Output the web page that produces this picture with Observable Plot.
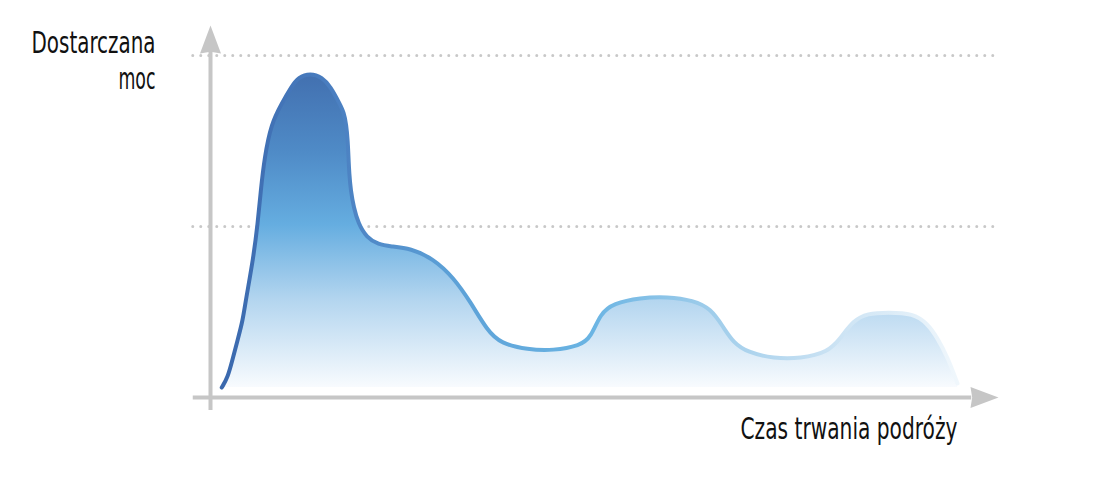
<!DOCTYPE html>
<html>
<head>
<meta charset="utf-8">
<script src="https://cdn.jsdelivr.net/npm/d3@7"></script>
<script src="https://cdn.jsdelivr.net/npm/@observablehq/plot@0.6"></script>
<style>
  html, body { margin: 0; padding: 0; background: #ffffff; }
  svg text { font-family: "Liberation Sans Narrow", "DejaVu Sans Condensed", "Roboto Condensed", "DejaVu Sans", sans-serif; }
</style>
</head>
<body>
<div id="chart"></div>
<script>
// Travel time (arbitrary units 0–100)
const time = [1.5, 2.3, 2.9, 3.6, 4.3, 4.7, 5.7, 6.3, 6.7, 7.2, 8.1, 9.5, 10.8, 11.7, 13.3, 14.9, 16.0, 17.2, 17.8, 18.1, 18.3, 18.4, 18.5, 18.7, 19.1, 19.7, 20.8, 22.4, 24.0, 26.7, 29.7, 32.4, 34.7, 36.9, 38.7, 42.3, 45.7, 49.3, 50.7, 52.0, 53.7, 57.3, 60.9, 64.4, 66.7, 68.4, 69.7, 71.6, 75.1, 78.7, 82.3, 84.0, 85.7, 87.6, 90.3, 93.7, 95.6, 96.9, 98.3, 99.6];
// Delivered power (arbitrary units 0–100)
const power = [2.9, 5.9, 10.8, 16.7, 22.5, 28.4, 40.6, 50.9, 60.5, 70.2, 80.1, 86.0, 90.9, 93.6, 94.9, 93.6, 90.9, 86.0, 83.3, 79.8, 75.2, 70.2, 65.5, 60.5, 55.6, 50.9, 46.8, 44.7, 44.2, 43.6, 40.6, 35.1, 27.8, 19.6, 15.8, 14.0, 13.7, 15.2, 17.5, 24.6, 27.5, 29.2, 29.5, 28.4, 26.0, 20.5, 16.1, 13.2, 11.4, 11.4, 13.2, 17.3, 22.5, 24.6, 24.9, 24.6, 21.6, 17.5, 11.7, 4.1];
const baseline = 2.9;
const gridLevels = [50, 100];
const yLabel = "Dostarczana\nmoc";
const xLabel = "Czas trwania podróży";
// axis extents (data units)
const axisXStart = -2.3, axisXEnd = 101.5, arrowXCenter = 103.2;
const axisYStart = -3.8, axisYEnd = 101.5, arrowYCenter = 104.7;
const gridXEnd = 105.1;

const data = time.map((t, i) => ({t, p: power[i]}));
const arrowHeads = [
  {x: 0, y: arrowYCenter, rotate: 0},
  {x: arrowXCenter, y: 0, rotate: 90}
];

const arrowSymbol = {
  draw(ctx, size) {
    const r = Math.sqrt(size / Math.PI);
    ctx.moveTo(0, -r);
    ctx.lineTo(0.75 * r, r);
    ctx.lineTo(0, 0.88 * r);
    ctx.lineTo(-0.75 * r, r);
    ctx.closePath();
  }
};

function gradients() {
  const ns = "http://www.w3.org/2000/svg";
  const g = document.createElementNS(ns, "g");
  g.innerHTML = `<defs>
    <linearGradient id="fillGrad" x1="0" y1="0" x2="0" y2="1">
      <stop offset="0" stop-color="#4270b0"/>
      <stop offset="0.25" stop-color="#4f8bc7"/>
      <stop offset="0.48" stop-color="#65ade0"/>
      <stop offset="0.72" stop-color="#b3d5ef"/>
      <stop offset="1" stop-color="#f8fbfe"/>
    </linearGradient>
    <linearGradient id="strokeGrad" x1="0" y1="0" x2="1" y2="0">
      <stop offset="0" stop-color="#3a68ad"/>
      <stop offset="0.15" stop-color="#4a7ec0"/>
      <stop offset="0.3" stop-color="#5b9fd6"/>
      <stop offset="0.5" stop-color="#6ab4e3"/>
      <stop offset="0.65" stop-color="#9bcbea"/>
      <stop offset="0.82" stop-color="#c8e1f3"/>
      <stop offset="1" stop-color="#f0f7fc"/>
    </linearGradient>
  </defs>`;
  return g;
}

const chart = Plot.plot({
  width: 1109,
  height: 478,
  marginLeft: 210,
  marginRight: 149,
  marginTop: 55,
  marginBottom: 81,
  style: {background: "#ffffff", overflow: "visible"},
  x: {domain: [0, 100], axis: null},
  y: {domain: [0, 100], axis: null},
  marks: [
    gradients,
    Plot.ruleY(gridLevels, {x1: axisXStart, x2: gridXEnd, stroke: "#c8c8c8", strokeWidth: 3, strokeDasharray: "0 8", strokeLinecap: "round"}),
    Plot.areaY(data, {x: "t", y1: baseline, y2: "p", curve: "basis", fill: "url(#fillGrad)"}),
    Plot.line(data, {x: "t", y: "p", curve: "basis", stroke: "url(#strokeGrad)", strokeWidth: 4, strokeLinecap: "round"}),
    Plot.ruleX([0], {y1: axisYStart, y2: axisYEnd, stroke: "#c6c6c6", strokeWidth: 4}),
    Plot.ruleY([0], {x1: axisXStart, x2: axisXEnd, stroke: "#c6c6c6", strokeWidth: 4}),
    Plot.dot(arrowHeads, {x: "x", y: "y", rotate: "rotate", r: 14, symbol: arrowSymbol, fill: "#c6c6c6", stroke: "none"}),
    Plot.text([yLabel], {className: "ylab", frameAnchor: "top-left", textAnchor: "end", lineAnchor: "bottom", lineHeight: 1.13, dx: -55, dy: 33, fontSize: 31, fill: "#111111"}),
    Plot.text([xLabel], {className: "xlab", frameAnchor: "bottom-right", textAnchor: "end", lineAnchor: "bottom", dx: -3, dy: 41, fontSize: 30, fill: "#111111"})
  ]
});
document.getElementById("chart").appendChild(chart);

// narrow the label glyphs to mimic the condensed typeface of the original
const labelWidths = {"Dostarczana": 124, "moc": 37, "Czas trwania podróży": 217};
chart.querySelectorAll(".ylab text, .xlab text").forEach(t => {
  const spans = t.querySelectorAll("tspan");
  const targets = spans.length ? Array.from(spans) : [t];
  targets.forEach(el => {
    const w = labelWidths[el.textContent.trim()];
    if (w) {
      el.setAttribute("textLength", w);
      el.setAttribute("lengthAdjust", "spacingAndGlyphs");
    }
  });
});
</script>
</body>
</html>
